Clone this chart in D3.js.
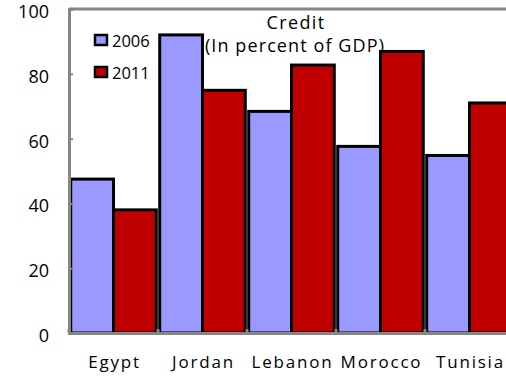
<!DOCTYPE html>
<html>
<head>
<meta charset="utf-8">
<script src="https://cdn.jsdelivr.net/npm/d3@7"></script>
<style>
  html, body { margin: 0; padding: 0; background: #fff; }
  svg { display: block; }
  text { font-family: "Open Sans", "DejaVu Sans", sans-serif; fill: #000; }
</style>
</head>
<body>
<svg id="chart" width="506" height="376"></svg>
<script>
// Credit to the private sector, percent of GDP
const countries = ["Egypt", "Jordan", "Lebanon", "Morocco", "Tunisia"];
const years = ["2006", "2011"];
const credit2006 = [47.5, 92.0, 68.4, 57.6, 54.8];
const credit2011 = [38.0, 74.9, 82.7, 86.9, 71.0];
const yTicks = [0, 20, 40, 60, 80, 100];
const colors = ["#9999FF", "#C00000"];

(function () {
  const svg = d3.select("#chart");
  const plotLeft = 69, plotTop = 9, plotBottom = 333, bandW = 89;
  const plotRight = plotLeft + bandW * countries.length;

  const x = d3.scaleBand().domain(countries).range([plotLeft, plotRight]).paddingInner(0).paddingOuter(0);
  const xs = d3.scaleBand().domain(years).range([0, bandW]).paddingInner(0).paddingOuter(0.04);
  const y = d3.scaleLinear().domain([0, 100]).range([plotBottom, plotTop]);

  const axisColor = "#868686";

  // title (sits behind the bars)
  svg.append("text").attr("x", 296).attr("y", 29).attr("text-anchor", "middle")
    .attr("font-size", 18).attr("letter-spacing", 1.4).text("Credit");
  svg.append("text").attr("x", 295).attr("y", 52).attr("text-anchor", "middle")
    .attr("font-size", 18).attr("letter-spacing", 1.1).text("(In percent of GDP)");

  // bars
  const series = [credit2006, credit2011];
  const g = svg.append("g");
  countries.forEach((c, i) => {
    years.forEach((yr, j) => {
      const v = series[j][i];
      g.append("rect")
        .attr("x", x(c) + xs(yr))
        .attr("y", y(v))
        .attr("width", xs.bandwidth())
        .attr("height", y(0) - y(v))
        .attr("fill", colors[j])
        .attr("stroke", "#000")
        .attr("stroke-width", 3);
    });
  });

  // frame: top border
  svg.append("line")
    .attr("x1", plotLeft).attr("x2", 506).attr("y1", plotTop).attr("y2", plotTop)
    .attr("stroke", axisColor).attr("stroke-width", 3);

  // y axis
  const yAxis = d3.axisRight(y).tickValues(yTicks).tickSize(4).tickFormat("");
  const ya = svg.append("g").attr("transform", `translate(${plotLeft},0)`).call(yAxis);
  ya.select(".domain").attr("stroke", axisColor).attr("stroke-width", 3);
  ya.selectAll(".tick line").attr("stroke", axisColor).attr("stroke-width", 2);
  svg.append("g").selectAll("text").data(yTicks).join("text")
    .attr("x", 49).attr("y", d => y(d) + 9)
    .attr("text-anchor", "end")
    .attr("font-size", 18)
    .text(d => d);

  // x axis
  const xAxis = d3.axisTop(x).tickSize(0).tickFormat("");
  const xa = svg.append("g").attr("transform", `translate(0,${plotBottom})`).call(xAxis);
  xa.select(".domain").attr("stroke", axisColor).attr("stroke-width", 3);
  const bounds = countries.map(c => x(c)).concat([plotRight]);
  xa.selectAll(".sep").data(bounds).join("line")
    .attr("x1", d => d).attr("x2", d => d).attr("y1", 0).attr("y2", -4)
    .attr("stroke", axisColor).attr("stroke-width", 3);
  svg.append("g").selectAll("text").data(countries).join("text")
    .attr("x", d => x(d) + bandW / 2 + 1)
    .attr("y", 368)
    .attr("text-anchor", "middle")
    .attr("font-size", 17)
    .attr("letter-spacing", 1.8)
    .text(d => d);

  // legend
  const leg = svg.append("g");
  years.forEach((yr, j) => {
    const ly = 35 + j * 32;
    leg.append("rect").attr("x", 95).attr("y", ly).attr("width", 12).attr("height", 10)
      .attr("fill", colors[j]).attr("stroke", "#000").attr("stroke-width", 2.5);
    leg.append("text").attr("x", 112).attr("y", ly + 12).attr("font-size", 16.5).text(yr);
  });
})();
</script>
</body>
</html>
